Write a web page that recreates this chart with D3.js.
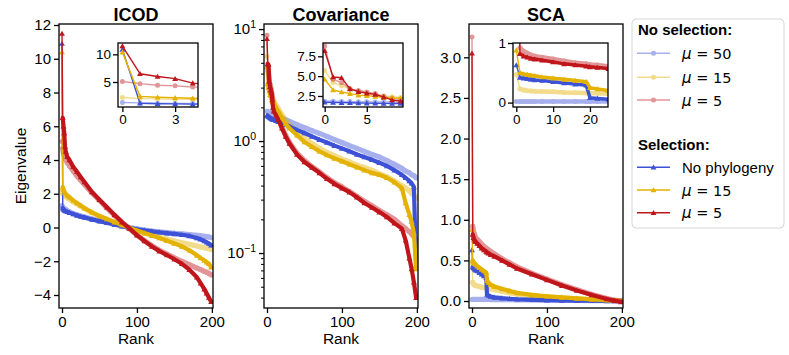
<!DOCTYPE html>
<html>
<head>
<meta charset="utf-8">
<script src="https://cdn.jsdelivr.net/npm/d3@7"></script>
<style>
  body { margin: 0; background: #fff; }
  text { font-family: "Liberation Sans", Arial, sans-serif; fill: #000; }
</style>
</head>
<body>
<svg id="chart" width="789" height="355"></svg>
<script>
// ---- data ----
const icodRanks = [0, 1, 2, 3, 4, 5, 7, 10, 15, 20, 25, 30, 40, 50, 60, 70, 80, 90, 100, 110, 120, 130, 140, 150, 160, 170, 180, 185, 190, 193, 196, 199];
const icodNoSel50 = [1.3, 1.22, 1.17, 1.13, 1.1, 1.07, 1.0, 0.93, 0.83, 0.75, 0.68, 0.62, 0.5, 0.4, 0.3, 0.2, 0.1, 0.0, -0.08, -0.15, -0.21, -0.26, -0.3, -0.34, -0.38, -0.42, -0.46, -0.49, -0.52, -0.54, -0.56, -0.6];
const icodNoSel15 = [2.2, 2.0, 1.95, 1.9, 1.85, 1.82, 1.75, 1.67, 1.52, 1.4, 1.27, 1.13, 0.88, 0.66, 0.48, 0.31, 0.14, -0.02, -0.17, -0.31, -0.44, -0.56, -0.68, -0.8, -0.9, -1.0, -1.1, -1.15, -1.2, -1.22, -1.25, -1.3];
const icodNoSel5 = [5.1, 4.7, 4.4, 4.3, 4.1, 4.0, 3.85, 3.65, 3.35, 3.05, 2.8, 2.55, 2.05, 1.6, 1.15, 0.72, 0.3, -0.07, -0.45, -0.78, -1.08, -1.35, -1.58, -1.8, -2.0, -2.2, -2.4, -2.5, -2.6, -2.65, -2.72, -2.8];
const icodSelNoPhylo = [10.9, 1.15, 1.08, 1.04, 1.0, 0.98, 0.93, 0.88, 0.8, 0.72, 0.65, 0.6, 0.48, 0.38, 0.28, 0.18, 0.08, -0.02, -0.1, -0.17, -0.23, -0.28, -0.33, -0.38, -0.43, -0.5, -0.62, -0.7, -0.8, -0.87, -0.95, -1.05];
const icodSel15 = [10.4, 2.4, 2.25, 2.15, 2.05, 2.0, 1.9, 1.8, 1.6, 1.45, 1.3, 1.15, 0.9, 0.68, 0.5, 0.32, 0.15, -0.02, -0.18, -0.33, -0.48, -0.62, -0.78, -0.95, -1.12, -1.35, -1.65, -1.8, -1.95, -2.05, -2.15, -2.35];
const icodSel5 = [11.5, 6.5, 6.0, 5.6, 4.8, 4.5, 4.2, 4.0, 3.6, 3.3, 3.0, 2.7, 2.1, 1.65, 1.2, 0.75, 0.32, -0.05, -0.45, -0.8, -1.12, -1.4, -1.63, -1.88, -2.15, -2.5, -2.95, -3.3, -3.65, -3.9, -4.15, -4.4];

const covRanks = [0, 1, 2, 3, 4, 5, 6, 7, 8, 9, 12, 15, 20, 25, 30, 40, 50, 60, 70, 80, 90, 100, 110, 120, 130, 140, 150, 160, 170, 180, 185, 190, 193, 196, 199];
const covNoSel50 = [1.85, 1.83, 1.81, 1.79, 1.78, 1.76, 1.75, 1.74, 1.72, 1.71, 1.68, 1.65, 1.6, 1.55, 1.5, 1.4, 1.32, 1.24, 1.17, 1.1, 1.03, 0.97, 0.91, 0.86, 0.81, 0.76, 0.72, 0.67, 0.62, 0.57, 0.54, 0.52, 0.5, 0.49, 0.47];
const covNoSel15 = [5.7, 4.2, 3.8, 3.4, 3.05, 2.85, 2.65, 2.5, 2.4, 2.3, 2.1, 1.95, 1.72, 1.52, 1.4, 1.2, 1.06, 0.95, 0.86, 0.79, 0.74, 0.69, 0.65, 0.61, 0.58, 0.55, 0.51, 0.48, 0.44, 0.4, 0.38, 0.36, 0.34, 0.33, 0.31];
const covNoSel5 = [8.8, 4.6, 4.2, 3.4, 3.2, 3.0, 2.8, 2.45, 2.2, 2.05, 1.8, 1.62, 1.33, 1.12, 0.97, 0.78, 0.67, 0.59, 0.53, 0.47, 0.425, 0.39, 0.355, 0.32, 0.29, 0.265, 0.24, 0.22, 0.2, 0.175, 0.165, 0.155, 0.148, 0.14, 0.13];
const covSelNoPhylo = [1.7, 1.68, 1.66, 1.64, 1.62, 1.6, 1.59, 1.57, 1.56, 1.55, 1.52, 1.49, 1.45, 1.4, 1.35, 1.26, 1.18, 1.1, 1.03, 0.97, 0.91, 0.86, 0.81, 0.76, 0.72, 0.68, 0.64, 0.6, 0.55, 0.5, 0.47, 0.44, 0.42, 0.39, 0.078];
const covSel15 = [4.6, 3.25, 3.0, 2.8, 2.6, 2.55, 2.45, 2.3, 2.25, 2.2, 2.0, 1.85, 1.62, 1.42, 1.3, 1.13, 0.98, 0.89, 0.81, 0.75, 0.7, 0.66, 0.62, 0.585, 0.55, 0.52, 0.5, 0.47, 0.43, 0.38, 0.28, 0.22, 0.19, 0.15, 0.072];
const covSel5 = [8.2, 4.9, 4.8, 3.4, 3.05, 2.85, 2.7, 2.35, 2.0, 1.85, 1.7, 1.55, 1.3, 1.1, 0.95, 0.76, 0.65, 0.58, 0.52, 0.46, 0.415, 0.38, 0.35, 0.315, 0.28, 0.255, 0.232, 0.21, 0.185, 0.165, 0.13, 0.09, 0.072, 0.055, 0.04];

const scaRanks = [0, 1, 2, 3, 4, 5, 7, 10, 13, 16, 19, 20, 22, 25, 30, 40, 50, 60, 80, 100, 120, 140, 160, 180, 190, 199];
const scaNoSel50 = [0.02, 0.02, 0.02, 0.02, 0.02, 0.02, 0.02, 0.02, 0.019, 0.019, 0.019, 0.019, 0.019, 0.018, 0.018, 0.017, 0.016, 0.015, 0.013, 0.011, 0.009, 0.007, 0.005, 0.003, 0.002, 0.0];
const scaNoSel15 = [0.47, 0.23, 0.21, 0.2, 0.195, 0.19, 0.185, 0.18, 0.17, 0.165, 0.16, 0.158, 0.155, 0.15, 0.14, 0.12, 0.1, 0.085, 0.065, 0.05, 0.038, 0.027, 0.017, 0.008, 0.004, 0.0];
const scaNoSel5 = [3.25, 0.92, 0.86, 0.83, 0.8, 0.78, 0.76, 0.73, 0.7, 0.67, 0.65, 0.64, 0.63, 0.61, 0.58, 0.52, 0.47, 0.42, 0.34, 0.27, 0.2, 0.14, 0.08, 0.03, 0.01, 0.0];
const scaSelNoPhylo = [0.63, 0.42, 0.41, 0.4, 0.39, 0.38, 0.37, 0.35, 0.33, 0.31, 0.29, 0.08, 0.07, 0.055, 0.045, 0.035, 0.028, 0.022, 0.015, 0.011, 0.008, 0.005, 0.003, 0.001, 0.0, 0.0];
const scaSel15 = [0.88, 0.5, 0.48, 0.47, 0.46, 0.45, 0.43, 0.41, 0.39, 0.37, 0.35, 0.25, 0.23, 0.2, 0.18, 0.15, 0.125, 0.1, 0.075, 0.058, 0.045, 0.032, 0.02, 0.01, 0.005, 0.0];
const scaSel5 = [3.05, 0.82, 0.78, 0.76, 0.74, 0.73, 0.71, 0.68, 0.65, 0.63, 0.61, 0.6, 0.59, 0.57, 0.55, 0.5, 0.45, 0.4, 0.33, 0.26, 0.19, 0.13, 0.075, 0.025, 0.005, -0.01];

const seriesMu = ['50', '15', '5', null, '15', '5'];
const seriesSelected = [false, false, false, true, true, true];

// ---- styling ----
const blue = '#3d52d6', yellow = '#e4b200', red = '#c0161b';
const seriesColors = [blue, yellow, red, blue, yellow, red];
const lightOpacity = 0.45;
const plotTop = 24, plotBottom = 308, panelW = 154;
const insetTop = 43, insetBottom = 107;

const svg = d3.select('#chart');

const panels = [
    {
        title: 'ICOD', ranks: icodRanks, left: 59, log: false,
        series: [icodNoSel50, icodNoSel15, icodNoSel5, icodSelNoPhylo, icodSel15, icodSel5],
        yDomain: [-4.77, 12.06], yTicks: [-4, -2, 0, 2, 4, 6, 8, 10, 12], yFormat: d3.format('d'),
        inset: { x0: 118, x1: 198, xDomain: [-0.25, 4.3], yDomain: [0.48, 12.05], xTicks: [0, 3], yTicks: [5, 10], yFormat: d3.format('d'), band: 0 }
    },
    {
        title: 'Covariance', ranks: covRanks, left: 264, log: true,
        series: [covNoSel50, covNoSel15, covNoSel5, covSelNoPhylo, covSel15, covSel5],
        yDomain: [0.0323, 11.1], yTicks: [0.1, 1, 10],
        inset: { x0: 323, x1: 403, xDomain: [-0.2, 9.3], yDomain: [1.11, 9.18], xTicks: [0, 5], yTicks: [2.5, 5, 7.5], yFormat: d3.format('.1f'), band: 0 }
    },
    {
        title: 'SCA', ranks: scaRanks, left: 469, log: false,
        series: [scaNoSel50, scaNoSel15, scaNoSel5, scaSelNoPhylo, scaSel15, scaSel5],
        yDomain: [-0.086, 3.41], yTicks: [0, 0.5, 1, 1.5, 2, 2.5, 3], yFormat: d3.format('.1f'),
        inset: { x0: 513, x1: 608, xDomain: [-0.9, 24.9], yDomain: [-0.074, 1.0], xTicks: [0, 10, 20], yTicks: [0, 1], yFormat: d3.format('d'), band: 3.5 }
    }
];

const triangle = d3.symbol().type(d3.symbolTriangle).size(15);

function drawMarker(g, cx, cy, i, color) {
    if (seriesSelected[i]) {
        g.append('path').attr('d', triangle()).attr('transform', `translate(${cx},${cy + 0.6})`).attr('fill', color);
    } else {
        g.append('circle').attr('cx', cx).attr('cy', cy).attr('r', 2.5).attr('fill', color);
    }
}

function plotSeries(g, ranks, vals, i, x, y, bandWidth) {
    const color = seriesColors[i];
    const pts = ranks.map((r, k) => [r, vals[k]]);
    const sg = g.append('g').attr('opacity', seriesSelected[i] ? 1 : lightOpacity);
    const line = d3.line().x(d => x(d[0])).y(d => y(d[1]));
    if (bandWidth) {
        const w = seriesSelected[i] ? bandWidth : bandWidth + 1;
        sg.append('path').attr('d', line(pts.slice(1))).attr('fill', 'none')
            .attr('stroke', color).attr('stroke-width', w)
            .attr('stroke-linejoin', 'round').attr('stroke-linecap', 'round');
    }
    sg.append('path').attr('d', line(pts)).attr('fill', 'none')
        .attr('stroke', color).attr('stroke-width', 1.4).attr('stroke-linejoin', 'round');
    pts.forEach(p => drawMarker(sg, x(p[0]), y(p[1]), i, color));
}

function styleAxis(g, fontSize) {
    g.select('.domain').remove();
    g.selectAll('.tick line').attr('stroke', '#000').attr('stroke-width', 1.3);
    g.selectAll('.tick text').attr('font-size', fontSize).attr('fill', '#000')
        .attr('font-family', '"Liberation Sans", Arial, sans-serif');
}

panels.forEach((p, pi) => {
    const right = p.left + panelW;
    const x = d3.scaleLinear().domain([-4, 201.5]).range([p.left, right]);
    const y = p.log
        ? d3.scaleLog().domain(p.yDomain).range([plotBottom, plotTop])
        : d3.scaleLinear().domain(p.yDomain).range([plotBottom, plotTop]);

    const clipId = 'clip' + pi;
    svg.append('clipPath').attr('id', clipId).append('rect')
        .attr('x', p.left).attr('y', plotTop).attr('width', panelW).attr('height', plotBottom - plotTop);

    const plot = svg.append('g').attr('clip-path', `url(#${clipId})`);
    p.series.forEach((vals, i) => plotSeries(plot, p.ranks, vals, i, x, y, 4.2));

    // axes
    const xAxis = svg.append('g').attr('transform', `translate(0,${plotBottom})`)
        .call(d3.axisBottom(x).tickValues([0, 100, 200]).tickSize(5).tickPadding(3));
    styleAxis(xAxis, 15);

    if (p.log) {
        const minor = [];
        [0.01, 0.1, 1].forEach(dec => { for (let m = 2; m <= 9; m++) minor.push(m * dec); });
        const minorAx = svg.append('g').attr('transform', `translate(${p.left},0)`)
            .call(d3.axisLeft(y).tickValues(minor.filter(v => v >= p.yDomain[0] && v <= p.yDomain[1])).tickSize(3).tickFormat(''));
        styleAxis(minorAx, 15);
        minorAx.selectAll('.tick line').attr('stroke-width', 1);
        const yAx = svg.append('g').attr('transform', `translate(${p.left},0)`)
            .call(d3.axisLeft(y).tickValues(p.yTicks).tickSize(5).tickPadding(3).tickFormat(''));
        styleAxis(yAx, 15);
        yAx.selectAll('.tick text').each(function (d) {
            const t = d3.select(this);
            const e = Math.round(Math.log10(d));
            t.text('10');
            t.append('tspan').attr('dy', '-0.65em').attr('font-size', 10.5).text(e < 0 ? '\u2212' + Math.abs(e) : e);
        });
    } else {
        const yAx = svg.append('g').attr('transform', `translate(${p.left},0)`)
            .call(d3.axisLeft(y).tickValues(p.yTicks).tickSize(5).tickPadding(3).tickFormat(p.yFormat));
        styleAxis(yAx, 15);
    }

    svg.append('rect').attr('x', p.left).attr('y', plotTop).attr('width', panelW).attr('height', plotBottom - plotTop)
        .attr('fill', 'none').attr('stroke', '#000').attr('stroke-width', 1.3);

    svg.append('text').attr('x', p.left + panelW / 2).attr('y', 20.5).attr('text-anchor', 'middle')
        .attr('font-size', 18).attr('font-weight', 'bold').text(p.title);
    svg.append('text').attr('x', p.left + panelW / 2).attr('y', 344).attr('text-anchor', 'middle')
        .attr('font-size', 15.5).text('Rank');

    // inset
    const ins = p.inset;
    const ix = d3.scaleLinear().domain(ins.xDomain).range([ins.x0, ins.x1]);
    const iy = d3.scaleLinear().domain(ins.yDomain).range([insetBottom, insetTop]);
    svg.append('rect').attr('x', ins.x0).attr('y', insetTop).attr('width', ins.x1 - ins.x0)
        .attr('height', insetBottom - insetTop).attr('fill', '#fff');
    const iClip = 'iclip' + pi;
    svg.append('clipPath').attr('id', iClip).append('rect')
        .attr('x', ins.x0).attr('y', insetTop).attr('width', ins.x1 - ins.x0).attr('height', insetBottom - insetTop);
    const iplot = svg.append('g').attr('clip-path', `url(#${iClip})`);
    p.series.forEach((vals, i) => plotSeries(iplot, p.ranks, vals, i, ix, iy, ins.band));

    const ixAx = svg.append('g').attr('transform', `translate(0,${insetBottom})`)
        .call(d3.axisBottom(ix).tickValues(ins.xTicks).tickSize(5).tickPadding(2).tickFormat(d3.format('d')));
    styleAxis(ixAx, 13.5);
    const iyAx = svg.append('g').attr('transform', `translate(${ins.x0},0)`)
        .call(d3.axisLeft(iy).tickValues(ins.yTicks).tickSize(5).tickPadding(2).tickFormat(ins.yFormat));
    styleAxis(iyAx, 13.5);
    svg.append('rect').attr('x', ins.x0).attr('y', insetTop).attr('width', ins.x1 - ins.x0)
        .attr('height', insetBottom - insetTop).attr('fill', 'none').attr('stroke', '#000').attr('stroke-width', 1.3);
});

svg.append('text').attr('transform', 'translate(26,166) rotate(-90)').attr('text-anchor', 'middle')
    .attr('font-size', 15.5).text('Eigenvalue');

// ---- legend ----
const legend = svg.append('g');
legend.append('rect').attr('x', 632).attr('y', 19).attr('width', 152).attr('height', 209)
    .attr('rx', 4).attr('fill', '#fff').attr('stroke', '#d6d6d6').attr('stroke-width', 1);
legend.append('text').attr('x', 638).attr('y', 35).attr('font-size', 15).attr('font-weight', 'bold').text('No selection:');
legend.append('text').attr('x', 638).attr('y', 149.5).attr('font-size', 15).attr('font-weight', 'bold').text('Selection:');
const legendY = [53.3, 77.3, 100, 167.3, 190, 212.7];
seriesColors.forEach((color, i) => {
    const ly = legendY[i];
    const lg = legend.append('g').attr('opacity', seriesSelected[i] ? 1 : lightOpacity);
    lg.append('line').attr('x1', 637).attr('x2', 670).attr('y1', ly).attr('y2', ly)
        .attr('stroke', color).attr('stroke-width', 1.5);
    drawMarker(lg, 653.5, ly, i, color);
    const t = legend.append('text').attr('x', 682).attr('y', ly + 5.5).attr('font-size', 15);
    if (seriesMu[i] === null) {
        t.text('No phylogeny');
    } else {
        t.append('tspan').attr('font-family', '"DejaVu Sans", sans-serif').attr('font-style', 'italic').text('\u03bc');
        t.append('tspan').attr('font-family', '"DejaVu Sans", sans-serif').attr('font-size', 14.5).text(' = ' + seriesMu[i]);
    }
});
</script>
</body>
</html>
